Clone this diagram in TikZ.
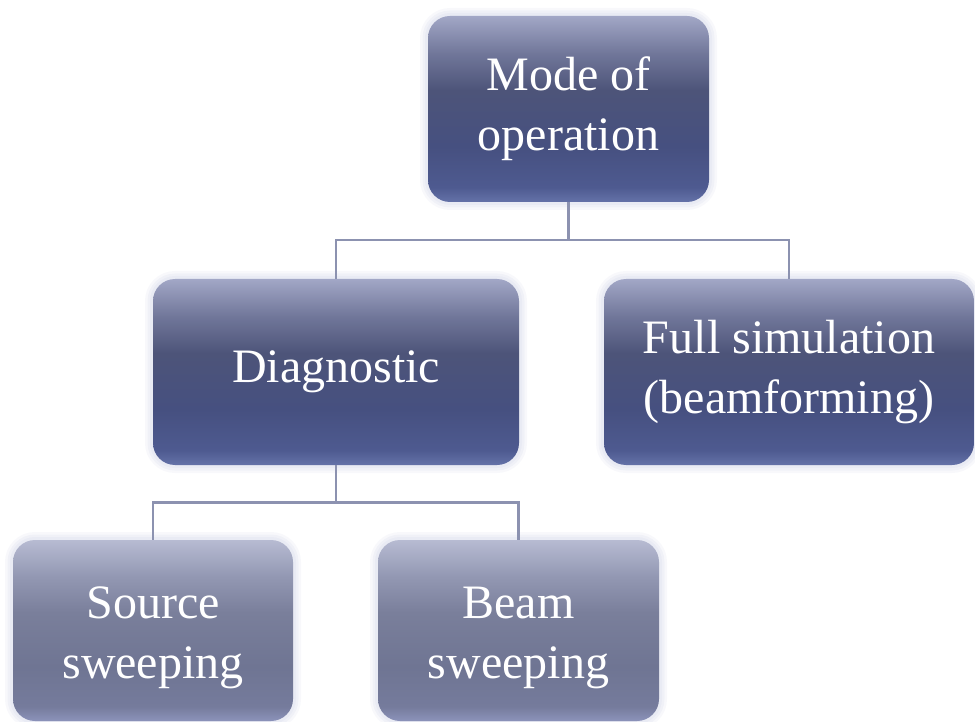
\documentclass[tikz,border=0pt]{standalone}
\usepackage{fontspec}
\setmainfont{Liberation Serif}
\usetikzlibrary{calc}
\definecolor{lineclr}{HTML}{8C92B0}
\definecolor{glowclr}{HTML}{E2E4F0}
\definecolor{dA}{HTML}{6472A8}
\definecolor{dB}{HTML}{4E5A90}
\definecolor{dC}{HTML}{465080}
\definecolor{dD}{HTML}{4D5479}
\definecolor{dE}{HTML}{71779A}
\definecolor{dF}{HTML}{A2A7C6}
\definecolor{lA}{HTML}{8C93BA}
\definecolor{lB}{HTML}{757B9C}
\definecolor{lC}{HTML}{6F7593}
\definecolor{lD}{HTML}{7A7F9B}
\definecolor{lE}{HTML}{9398B3}
\definecolor{lF}{HTML}{B7BBD2}
\pgfdeclareverticalshading{darkbox}{100bp}{%
  color(0bp)=(dA);
  color(25bp)=(dA);
  color(29bp)=(dB);
  color(40bp)=(dC);
  color(55bp)=(dD);
  color(65bp)=(dE);
  color(75bp)=(dF);
  color(100bp)=(dF)}
\pgfdeclareverticalshading{lightbox}{100bp}{%
  color(0bp)=(lA);
  color(25bp)=(lA);
  color(29bp)=(lB);
  color(40bp)=(lC);
  color(55bp)=(lD);
  color(65bp)=(lE);
  color(75bp)=(lF);
  color(100bp)=(lF)}
\tikzset{
  boxbase/.style={rounded corners=22pt, inner sep=0pt, align=center,
    text=white, font=\fontsize{48}{60}\selectfont,
    preaction={draw=glowclr, line width=16pt, opacity=0.25},
    preaction={draw=glowclr, line width=11pt, opacity=0.35},
    preaction={draw=glowclr, line width=6pt, opacity=0.5}},
  darknode/.style={boxbase, shading=darkbox},
  lightnode/.style={boxbase, shading=lightbox},
  conn/.style={draw=lineclr, line width=2.6pt}
}
\begin{document}
\begin{tikzpicture}[x=1pt,y=-1pt]
\useasboundingbox (0,0) rectangle (975,722);
\node[darknode, minimum width=281pt, minimum height=186pt] (mode) at (568.5,109) {Mode of\\operation};
\node[darknode, minimum width=366pt, minimum height=186pt] (diag) at (336,372) {Diagnostic};
\node[darknode, minimum width=370pt, minimum height=186pt] (full) at (789,372) {Full simulation\\(beamforming)};
\node[lightnode, minimum width=280pt, minimum height=181pt] (src) at (153,630.5) {\raisebox{-12pt}[0pt][0pt]{\begin{tabular}{@{}c@{}}Source\\sweeping\end{tabular}}};
\node[lightnode, minimum width=281pt, minimum height=181pt] (beam) at (518.5,630.5) {\raisebox{-12pt}[0pt][0pt]{\begin{tabular}{@{}c@{}}Beam\\sweeping\end{tabular}}};
\coordinate (j1) at ($(mode.south)+(0,38)$);
\coordinate (j2) at ($(diag.south)+(0,37)$);
\draw[conn] (mode.south) -- (j1) -| (diag.north);
\draw[conn] (j1) -| (full.north);
\draw[conn] (diag.south) -- (j2) -| (src.north);
\draw[conn] (j2) -| (beam.north);
\end{tikzpicture}
\end{document}
